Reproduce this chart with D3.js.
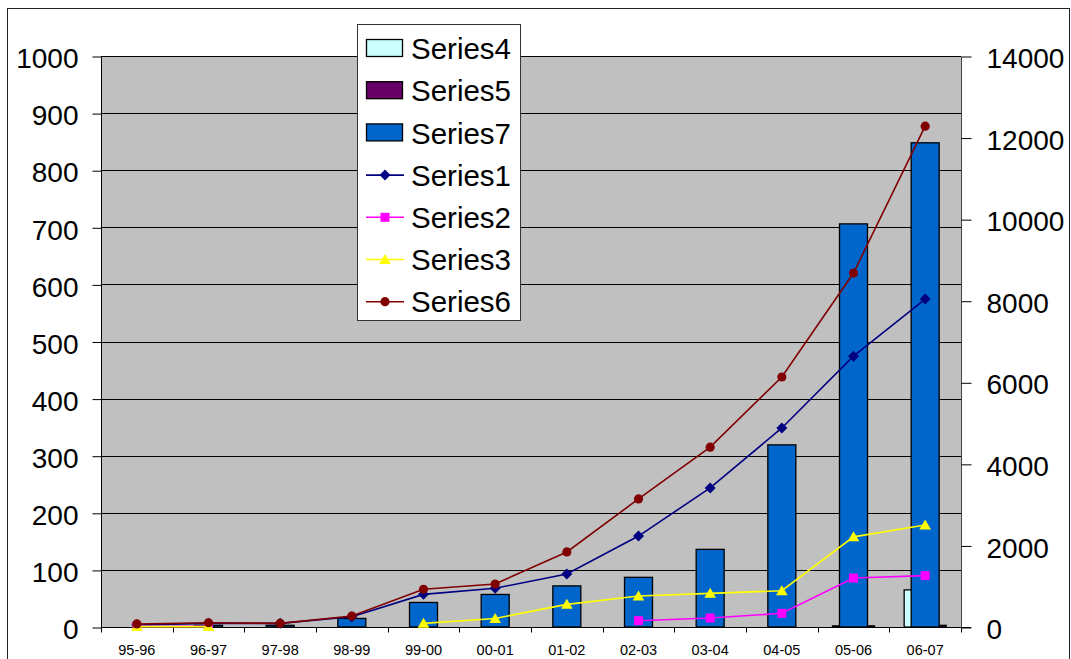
<!DOCTYPE html>
<html><head><meta charset="utf-8">
<script src="https://cdn.jsdelivr.net/npm/d3@7"></script>
<style>body{margin:0;background:#fff;} svg{display:block;font-family:"Liberation Sans",Arial,sans-serif;}</style>
</head><body>
<svg id="chart" width="1071" height="659"></svg>
<script>
const categories = ["95-96","96-97","97-98","98-99","99-00","00-01","01-02","02-03","03-04","04-05","05-06","06-07"];
// bars (left axis)
const series4 = [0,0,0,0,0,0,0,0,0,0,2,65];
const series5 = [0,0,0,0,0,0,0,0,0,0,2,3];
const series7 = [0,3,3,15,43,57,72,87,136,319,706,848];
// lines (right axis)
const series1 = [50,90,90,250,800,950,1300,2230,3410,4880,6640,8040];
const series2 = [15,15,null,null,null,null,null,155,220,335,1200,1260];
const series3 = [10,10,null,null,90,210,555,760,825,890,2210,2500];
const series6 = [75,105,90,270,925,1055,1840,3140,4410,6130,8680,12280];
const leftTicks = [0,100,200,300,400,500,600,700,800,900,1000];
const rightTicks = [0,2000,4000,6000,8000,10000,12000,14000];

const svg = d3.select("#chart");
const L = 101, R = 961, T = 56, B = 627;

svg.append("rect").attr("x",7.5).attr("y",8.5).attr("width",1062).attr("height",700)
  .attr("fill","#fff").attr("stroke","#222").attr("stroke-width",1);

const x = d3.scaleBand().domain(categories).range([L,R]).padding(0);
const yL = d3.scaleLinear().domain([0,1000]).range([B,T]);
const yR = d3.scaleLinear().domain([0,14000]).range([B,T]);

svg.append("rect").attr("x",L).attr("y",T).attr("width",R-L).attr("height",B-T).attr("fill","#C0C0C0");

// gridlines
svg.append("g").selectAll("line").data(leftTicks.slice(1)).join("line")
  .attr("x1",L).attr("x2",R).attr("y1",d=>Math.round(yL(d))+0.5).attr("y2",d=>Math.round(yL(d))+0.5)
  .attr("stroke","#000").attr("stroke-width",1);

// bars
const barW = 28;
const barSeries = [
  {name:"Series4", vals:series4, fill:"#CCFFFF", off:-7},
  {name:"Series5", vals:series5, fill:"#660066", off:7},
  {name:"Series7", vals:series7, fill:"#0066CC", off:0}
];
barSeries.forEach(s=>{
  svg.append("g").selectAll("rect").data(categories.map((c,i)=>({c,v:s.vals[i]})).filter(d=>d.v>0)).join("rect")
    .attr("x",d=>x(d.c)+x.bandwidth()/2+s.off-barW/2)
    .attr("y",d=>yL(d.v))
    .attr("width",barW)
    .attr("height",d=>B-yL(d.v))
    .attr("fill",s.fill).attr("stroke","#000").attr("stroke-width",1.3);
});

// axes
const fmt = d3.format("d");
const axL = d3.axisLeft(yL).tickValues(leftTicks).tickFormat(fmt).tickSize(9).tickPadding(14);
const gL = svg.append("g").attr("transform",`translate(${L+0.5},0.5)`).call(axL);
gL.selectAll("text").attr("font-size",28).attr("fill","#000").attr("dy","0.4em");
gL.selectAll("line,path").attr("stroke","#000");
gL.select(".domain").attr("d",`M0,${T}V${B}`);

const axR = d3.axisRight(yR).tickValues(rightTicks).tickFormat(fmt).tickSize(10).tickPadding(15);
const gR = svg.append("g").attr("transform",`translate(${R+0.5},0.5)`).call(axR);
gR.selectAll("text").attr("font-size",28).attr("fill","#000").attr("dy","0.4em");
gR.selectAll("line,path").attr("stroke","#000");
gR.select(".domain").attr("d",`M0,${T}V${B}`).attr("stroke","#444");

// x axis
const gX = svg.append("g").attr("transform",`translate(0,${B+0.5})`);
gX.append("line").attr("x1",L).attr("x2",R+10).attr("stroke","#000");
const bounds = categories.map(c=>x(c)).concat([R]);
gX.selectAll("line.tk").data(bounds).join("line").attr("class","tk")
  .attr("x1",d=>Math.round(d)+0.5).attr("x2",d=>Math.round(d)+0.5).attr("y1",0).attr("y2",5).attr("stroke","#000");
gX.selectAll("text").data(categories).join("text")
  .attr("x",d=>x(d)+x.bandwidth()/2).attr("y",27).attr("text-anchor","middle")
  .attr("font-size",14.5).attr("fill","#000").text(d=>d);

// lines
const lineSeries = [
  {name:"Series1", vals:series1, color:"#000080", marker:"diamond"},
  {name:"Series2", vals:series2, color:"#FF00FF", marker:"square"},
  {name:"Series3", vals:series3, color:"#FFFF00", marker:"triangle"},
  {name:"Series6", vals:series6, color:"#800000", marker:"circle"}
];
function markerPath(m){
  if(m==="diamond") return "M0,-5.5L5.5,0L0,5.5L-5.5,0Z";
  if(m==="square") return "M-4.5,-4.5H4.5V4.5H-4.5Z";
  if(m==="triangle") return "M0,-5.5L5.8,4.5H-5.8Z";
  return d3.symbol().type(d3.symbolCircle).size(66)();
}
function drawMarker(g, m, color, cx, cy){
  g.append("path").attr("d",markerPath(m))
    .attr("transform",`translate(${cx},${cy})`).attr("fill",color).attr("stroke","none");
}
lineSeries.forEach(s=>{
  const pts = categories.map((c,i)=>({c,v:s.vals[i]}));
  const line = d3.line().defined(d=>d.v!==null).x(d=>x(d.c)+x.bandwidth()/2).y(d=>yR(d.v));
  const g = svg.append("g");
  g.append("path").attr("d",line(pts)).attr("fill","none").attr("stroke",s.color).attr("stroke-width",1.6);
  pts.filter(d=>d.v!==null).forEach(d=>drawMarker(g,s.marker,s.color,x(d.c)+x.bandwidth()/2,yR(d.v)));
});

// legend
const lg = svg.append("g");
lg.append("rect").attr("x",357.5).attr("y",24.5).attr("width",163).attr("height",296)
  .attr("fill","#fff").attr("stroke","#333").attr("stroke-width",1);
const legendItems = barSeries.map(s=>({name:s.name,type:"bar",fill:s.fill}))
  .concat(lineSeries.map(s=>({name:s.name,type:"line",color:s.color,marker:s.marker})));
legendItems.forEach((it,i)=>{
  const cy = 48.5 + i*42.2;
  if(it.type==="bar"){
    lg.append("rect").attr("x",366.5).attr("y",cy-9).attr("width",36).attr("height",17)
      .attr("fill",it.fill).attr("stroke","#000").attr("stroke-width",1.3);
  } else {
    lg.append("line").attr("x1",366).attr("x2",404).attr("y1",cy).attr("y2",cy).attr("stroke",it.color).attr("stroke-width",1.6);
    drawMarker(lg,it.marker,it.color,385,cy);
  }
  lg.append("text").attr("x",411).attr("y",cy).attr("dy","0.36em").attr("font-size",29.5).attr("fill","#000").text(it.name);
});
</script>
</body></html>
